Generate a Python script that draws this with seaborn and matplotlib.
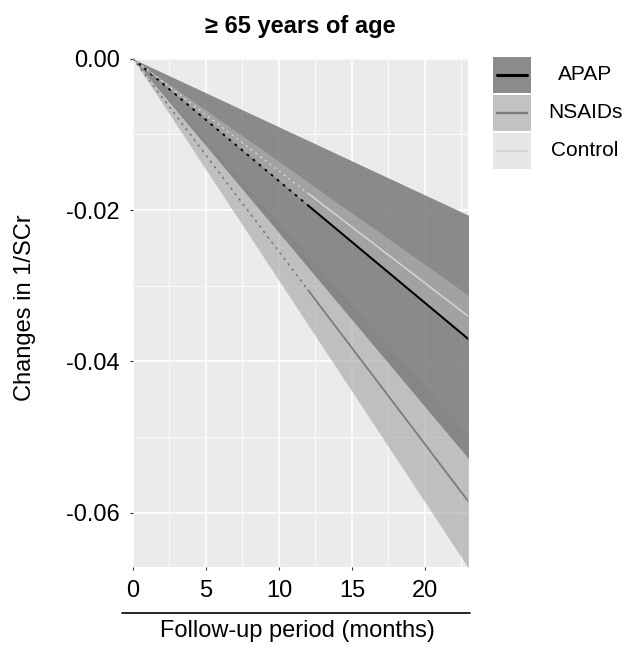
import numpy as np
import pandas as pd
import matplotlib
matplotlib.use("Agg")
import matplotlib.pyplot as plt
import seaborn as sns
from matplotlib.lines import Line2D
from matplotlib.patches import Rectangle

# values (change in 1/SCr at 0, 12 and 23 months)
groups = ["APAP", "NSAIDs", "Control"]
months = [0, 12, 23]

apap_est = [0.0, -0.0194, -0.0371]
apap_lo = [0.0, -0.0276, -0.0529]
apap_hi = [0.0, -0.0108, -0.0207]

nsaid_est = [0.0, -0.0306, -0.0586]
nsaid_lo = [0.0, -0.0352, -0.0674]
nsaid_hi = [0.0, -0.0260, -0.0498]

ctrl_est = [0.0, -0.0178, -0.0341]
ctrl_lo = [0.0, -0.0193, -0.0369]
ctrl_hi = [0.0, -0.0163, -0.0313]

est = {"APAP": apap_est, "NSAIDs": nsaid_est, "Control": ctrl_est}
lo = {"APAP": apap_lo, "NSAIDs": nsaid_lo, "Control": ctrl_lo}
hi = {"APAP": apap_hi, "NSAIDs": nsaid_hi, "Control": ctrl_hi}

# styles
line_col = {"APAP": "#000000", "NSAIDs": "#7a7a7a", "Control": "#d6d6d6"}
line_w = {"APAP": 1.45, "NSAIDs": 1.25, "Control": 1.1}
key_w = {"APAP": 2.2, "NSAIDs": 1.7, "Control": 1.6}
fill_col = {"APAP": "#808080", "NSAIDs": "#a2a2a2", "Control": "#d0d0d0"}
fill_alpha = {"APAP": 0.9, "NSAIDs": 0.6, "Control": 0.35}

sns.set_theme(style="darkgrid", rc={
    "axes.facecolor": "#EBEBEB",
    "grid.color": "white",
    "lines.dash_capstyle": "round",
    "text.color": "black",
    "axes.labelcolor": "black",
})
plt.rcParams["font.family"] = ["Liberation Sans", "DejaVu Sans"]

# long table for the lines: dotted up to 12 months, solid after
rows = []
for g in groups:
    for seg, idx in [("dotted", [0, 1]), ("solid", [1, 2])]:
        for i in idx:
            rows.append({"month": months[i], "change": est[g][i],
                         "group": g, "segment": seg})
lines = pd.DataFrame(rows)

fig = plt.figure(figsize=(6.25, 6.5), dpi=100)
ax = fig.add_axes([0.2128, 0.1277, 0.536, 0.783])

# ribbons
for g in ["NSAIDs", "APAP", "Control"]:
    ax.fill_between(months, lo[g], hi[g], color=fill_col[g],
                    alpha=fill_alpha[g], lw=0, zorder=2)

sns.lineplot(data=lines, x="month", y="change", hue="group", style="segment",
             size="group", palette=line_col, sizes=line_w,
             dashes={"dotted": (0.6, 3.3), "solid": ""},
             estimator=None, sort=False, legend=False, ax=ax, zorder=3)

ax.set_xlim(0, 22.95)
ax.set_ylim(-0.0672, 0.0001)
ax.set_xticks([0, 5, 10, 15, 20])
ax.set_xticks([2.5, 7.5, 12.5, 17.5, 22.5], minor=True)
ax.set_yticks([0.0, -0.02, -0.04, -0.06])
ax.set_yticks([-0.01, -0.03, -0.05], minor=True)
ax.set_yticklabels(["0.00", "-0.02", "-0.04", "-0.06"])
ax.grid(which="major", color="white", lw=1.1)
ax.grid(which="minor", color="white", lw=0.55)
ax.tick_params(which="major", length=2.5, width=0.8, color="#333333",
               labelsize=17, labelcolor="black", pad=7)
ax.tick_params(which="minor", length=0)
ax.tick_params(axis="x", which="major", bottom=True)
ax.tick_params(axis="y", which="major", left=True)
for s in ax.spines.values():
    s.set_visible(False)

ax.set_title("≥ 65 years of age", fontweight="bold", fontsize=17, pad=18,
             color="black")
ax.set_ylabel("Changes in 1/SCr", fontsize=17)
ax.yaxis.set_label_coords(-0.29, 0.51)
ax.set_xlabel("Follow-up period (months)", fontsize=17)
ax.xaxis.set_label_coords(0.49, -0.105)

# rule between tick labels and x title
fig.add_artist(Line2D([122 / 625, 470 / 625], [1 - 613 / 650] * 2,
                      transform=fig.transFigure, color="black", lw=1.2))

# legend drawn as stacked keys
kx, kw, kh = 493 / 625, 38 / 625, 36 / 650
for i, g in enumerate(groups):
    top = 1 - (57 + i * 38) / 650
    fig.add_artist(Rectangle((kx, top - kh), kw, kh, transform=fig.transFigure,
                             facecolor="#F2F2F2", lw=0))
    fig.add_artist(Rectangle((kx, top - kh), kw, kh, transform=fig.transFigure,
                             facecolor=fill_col[g], alpha=fill_alpha[g], lw=0))
    fig.add_artist(Line2D([kx + 4 / 625, kx + kw - 4 / 625], [top - kh / 2] * 2,
                          transform=fig.transFigure, color=line_col[g],
                          lw=key_w[g]))
    fig.text(585 / 625, top - kh / 2, g, ha="center", va="center", fontsize=15,
             color="black")

fig.savefig("out.png", dpi=100)
